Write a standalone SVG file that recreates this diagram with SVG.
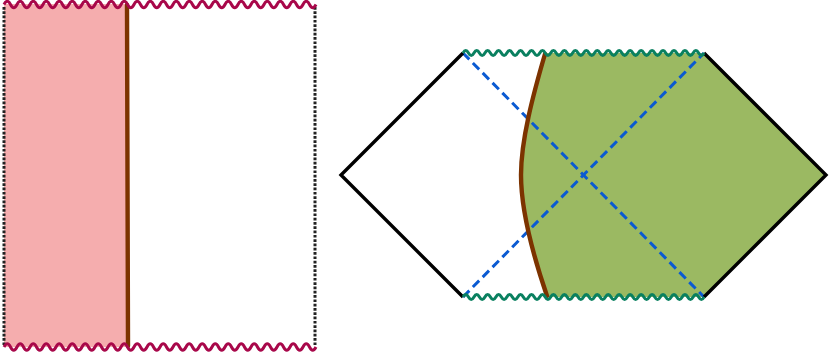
<svg xmlns="http://www.w3.org/2000/svg" width="830" height="353" viewBox="0 0 830 353">
<style>
.dot{stroke:#222;stroke-width:3;stroke-dasharray:2.7 1.6;fill:none}
.wred{stroke:#a8084a;stroke-width:3;fill:none}
.wgreen{stroke:#0a8060;stroke-width:3;fill:none}
.brown{stroke:#7c3300;stroke-width:4.4;fill:none;stroke-linecap:round}
.edge{stroke:#000;stroke-width:3.4;fill:none;stroke-linejoin:miter}
.blue{stroke:#0a5ad2;stroke-width:3;stroke-dasharray:9 5;fill:none}
</style>
<g id="left-panel">
<rect x="4" y="4" width="123.5" height="343" fill="#f5adae"/>
<line class="dot" x1="4" y1="7" x2="4" y2="345"/>
<line class="dot" x1="315" y1="7" x2="315" y2="345"/>
<line class="brown" x1="127" y1="5" x2="128" y2="346"/>
<path class="wred" d="M4,4.5 q3.25,-6.5 6.5,0 t6.5,0 t6.5,0 t6.5,0 t6.5,0 t6.5,0 t6.5,0 t6.5,0 t6.5,0 t6.5,0 t6.5,0 t6.5,0 t6.5,0 t6.5,0 t6.5,0 t6.5,0 t6.5,0 t6.5,0 t6.5,0 t6.5,0 t6.5,0 t6.5,0 t6.5,0 t6.5,0 t6.5,0 t6.5,0 t6.5,0 t6.5,0 t6.5,0 t6.5,0 t6.5,0 t6.5,0 t6.5,0 t6.5,0 t6.5,0 t6.5,0 t6.5,0 t6.5,0 t6.5,0 t6.5,0 t6.5,0 t6.5,0 t6.5,0 t6.5,0 t6.5,0 t6.5,0 t6.5,0 t6.5,0"/>
<path class="wred" d="M4,347 q3.25,-6.5 6.5,0 t6.5,0 t6.5,0 t6.5,0 t6.5,0 t6.5,0 t6.5,0 t6.5,0 t6.5,0 t6.5,0 t6.5,0 t6.5,0 t6.5,0 t6.5,0 t6.5,0 t6.5,0 t6.5,0 t6.5,0 t6.5,0 t6.5,0 t6.5,0 t6.5,0 t6.5,0 t6.5,0 t6.5,0 t6.5,0 t6.5,0 t6.5,0 t6.5,0 t6.5,0 t6.5,0 t6.5,0 t6.5,0 t6.5,0 t6.5,0 t6.5,0 t6.5,0 t6.5,0 t6.5,0 t6.5,0 t6.5,0 t6.5,0 t6.5,0 t6.5,0 t6.5,0 t6.5,0 t6.5,0 t6.5,0"/>
</g>
<g id="right-panel">
<path d="M545,53 L704,53 L826,175 L704,297 L547,297 C533,255 521,210 521,175 C521,140 533,95 545,53 Z" fill="#9bb962"/>
<line class="blue" x1="463" y1="53" x2="704" y2="297"/>
<line class="blue" x1="463" y1="297" x2="704" y2="53"/>
<path class="brown" d="M545,54 C533,95 521,140 521,175 C521,210 533,255 547,296"/>
<polyline class="edge" points="463,53 341,175 463,297"/>
<polyline class="edge" points="704,53 826,175 704,297"/>
<path class="wgreen" d="M463,53 q2.74,-5 5.48,0 t5.48,0 t5.48,0 t5.48,0 t5.48,0 t5.48,0 t5.48,0 t5.48,0 t5.48,0 t5.48,0 t5.48,0 t5.48,0 t5.48,0 t5.48,0 t5.48,0 t5.48,0 t5.48,0 t5.48,0 t5.48,0 t5.48,0 t5.48,0 t5.48,0 t5.48,0 t5.48,0 t5.48,0 t5.48,0 t5.48,0 t5.48,0 t5.48,0 t5.48,0 t5.48,0 t5.48,0 t5.48,0 t5.48,0 t5.48,0 t5.48,0 t5.48,0 t5.48,0 t5.48,0 t5.48,0 t5.48,0 t5.48,0 t5.48,0 t5.48,0"/>
<path class="wgreen" d="M463,297 q2.74,-5 5.48,0 t5.48,0 t5.48,0 t5.48,0 t5.48,0 t5.48,0 t5.48,0 t5.48,0 t5.48,0 t5.48,0 t5.48,0 t5.48,0 t5.48,0 t5.48,0 t5.48,0 t5.48,0 t5.48,0 t5.48,0 t5.48,0 t5.48,0 t5.48,0 t5.48,0 t5.48,0 t5.48,0 t5.48,0 t5.48,0 t5.48,0 t5.48,0 t5.48,0 t5.48,0 t5.48,0 t5.48,0 t5.48,0 t5.48,0 t5.48,0 t5.48,0 t5.48,0 t5.48,0 t5.48,0 t5.48,0 t5.48,0 t5.48,0 t5.48,0 t5.48,0"/>
</g>
</svg>
